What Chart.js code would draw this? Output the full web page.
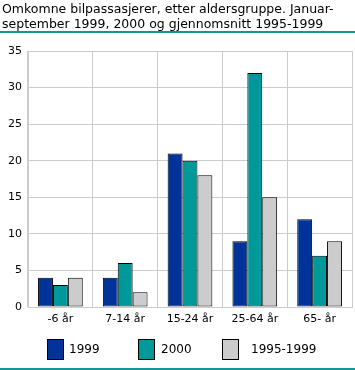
<!DOCTYPE html>
<html><head><meta charset="utf-8">
<script src="https://cdn.jsdelivr.net/npm/chart.js@4/dist/chart.umd.min.js"></script>
<style>
html,body{margin:0;padding:0;background:#fff;}
#wrap{position:relative;width:355px;height:370px;overflow:hidden;font-family:"DejaVu Sans",sans-serif;}
#title{position:absolute;left:2px;top:1px;font-size:12.5px;line-height:15px;color:#000;white-space:nowrap;}
#rule1{position:absolute;left:0;top:31px;width:355px;height:2px;background:#129797;}
#rule2{position:absolute;left:0;top:368px;width:355px;height:2px;background:#129797;}
canvas{position:absolute;left:0;top:0;}
.lg{position:absolute;top:339px;width:15px;height:19px;border:1px solid #000;}
.lt{position:absolute;top:342px;font-size:12px;color:#000;}
</style></head>
<body><div id="wrap">
<canvas id="c" width="355" height="370"></canvas>
<div id="title">Omkomne bilpassasjerer, etter aldersgruppe. Januar-<br>september 1999, 2000 og gjennomsnitt 1995-1999</div>
<div id="rule1"></div><div id="rule2"></div>
<div id="legend"></div>
</div>
<script>
const categories = ["-6 år", "7-14 år", "15-24 år", "25-64 år", "65- år"];
const seriesNames = ["1999", "2000", "1995-1999"];
const values1999 = [4, 4, 21, 9, 12];
const values2000 = [3, 6, 20, 32, 7];
const valuesAvg = [4, 2, 18, 15, 9];
const yTicks = [0, 5, 10, 15, 20, 25, 30, 35];
const colors = ["#003399", "#009999", "#cccccc"];

const legendPos = [[47, 69], [138, 161], [222, 251]];
const lg = document.getElementById('legend');
seriesNames.forEach((n, i) => {
  const b = document.createElement('div'); b.className = 'lg';
  b.style.left = legendPos[i][0] + 'px'; b.style.background = colors[i];
  const t = document.createElement('div'); t.className = 'lt';
  t.style.left = legendPos[i][1] + 'px'; t.textContent = n;
  lg.appendChild(b); lg.appendChild(t);
});

const data = [values1999, values2000, valuesAvg];
new Chart(document.getElementById('c'), {
  type: 'bar',
  data: {
    labels: categories,
    datasets: seriesNames.map((n, i) => ({
      label: n, data: data[i], backgroundColor: colors[i],
      borderColor: '#000', borderWidth: 1, borderSkipped: false
    }))
  },
  options: {
    responsive: false, animation: false,
    layout: { padding: { left: 0, right: 3, top: 51, bottom: 43 } },
    plugins: { legend: { display: false }, tooltip: { enabled: false } },
    datasets: { bar: { categoryPercentage: 0.69, barPercentage: 1.0 } },
    scales: {
      x: {
        grid: { color: '#cccccc', lineWidth: 1, offset: true, drawTicks: false },
        border: { color: '#cccccc' },
        ticks: { color: '#000', font: { family: 'DejaVu Sans', size: 11 }, padding: 6 },
        afterFit: s => { s.height = 20; }
      },
      y: {
        min: 0, max: 35,
        afterBuildTicks: s => { s.ticks = yTicks.map(v => ({ value: v })); },
        grid: { color: '#cccccc', lineWidth: 1, drawTicks: false },
        border: { color: '#cccccc' },
        ticks: { color: '#000', font: { family: 'DejaVu Sans', size: 11 }, padding: 6 },
        afterFit: s => { s.width = 28; }
      }
    }
  }
});
</script>
</body></html>
